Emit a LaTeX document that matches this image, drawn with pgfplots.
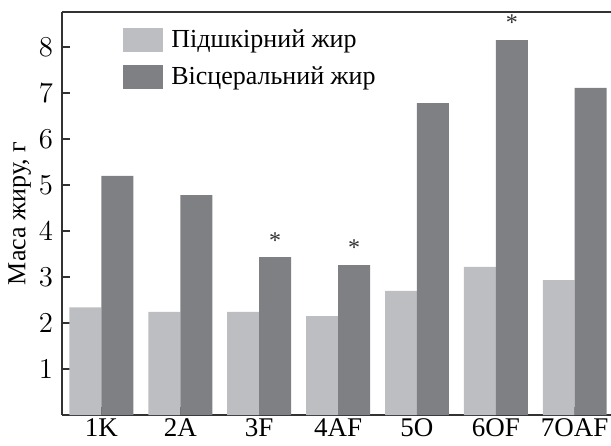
\documentclass[border=0pt]{standalone}
\usepackage{fontspec}
\setmainfont{Liberation Serif}
\usepackage{pgfplots}
\pgfplotsset{compat=1.18}
\usepackage{pgfplotstable}
\definecolor{lightbar}{RGB}{189,190,194}
\definecolor{darkbar}{RGB}{127,128,132}
\definecolor{axline}{RGB}{50,50,50}

\pgfplotstableread{
x y
1 2.34
2 2.24
3 2.24
4 2.15
5 2.70
6 3.22
7 2.93
}\subq

\pgfplotstableread{
x y lab
1 5.20 {}
2 4.78 {}
3 3.43 *
4 3.26 *
5 6.78 {}
6 8.15 *
7 7.11 {}
}\visc

\begin{document}
\begin{tikzpicture}
\begin{axis}[
  scale only axis,
  width=274.5pt, height=201.5pt,
  xmin=0.5, xmax=7.46,
  ymin=0, ymax=8.76,
  ybar=0pt, bar width=0.405,
  axis x line*=bottom, axis y line*=left,
  axis line style={axline, line width=0.8pt},
  x axis line style={-}, y axis line style={-},
  xtick={1,...,7},
  xticklabels={$\mathrm{1K}$,$\mathrm{2A}$,$\mathrm{3F}$,$\mathrm{4AF}$,$\mathrm{5O}$,$\mathrm{6OF}$,$\mathrm{7OAF}$},
  ytick={1,...,8},
  tick style={axline, line width=0.6pt},
  major tick length=4pt,
  tick align=inside,
  ticklabel style={font=\fontsize{13.5}{13.5}\selectfont},
  xticklabel style={yshift=0pt, inner sep=1.5pt},
  yticklabel style={xshift=-1pt},
  ylabel={Маса жиру, г},
  ylabel style={font=\rmfamily\fontsize{13}{13}\selectfont, yshift=-3pt},
  legend style={draw=none, fill=none, at={(0.111,0.968)}, anchor=north west,
    inner sep=0pt, row sep=4.5pt, font=\rmfamily\fontsize{13}{13}\selectfont,
    /tikz/every even column/.append style={column sep=0pt}},
  legend cell align=left,
  legend image code/.code={\fill[#1,draw=none] (0pt,-6pt) rectangle (20pt,6pt);},
  clip=false,
]
\addplot[fill=lightbar, draw=none] table[x=x,y=y] {\subq};
\addlegendentry{\hspace{2pt}Підшкірний жир}
\addplot[fill=darkbar, draw=none,
  nodes near coords, point meta=explicit symbolic,
  every node near coord/.append style={font=\fontsize{12}{12}\selectfont, black!80, yshift=1pt}
] table[x=x,y=y,meta=lab] {\visc};
\addlegendentry{\hspace{2pt}Вісцеральний жир}
\draw[axline, line width=0.8pt] (rel axis cs:0,1) -- (rel axis cs:1,1);
\coordinate (bl) at (rel axis cs:0,0);
\coordinate (tr) at (rel axis cs:1,1);
\end{axis}
\pgfresetboundingbox
\path ([xshift=-31pt,yshift=-15pt]bl) rectangle ([yshift=6pt]tr);
\end{tikzpicture}
\end{document}
